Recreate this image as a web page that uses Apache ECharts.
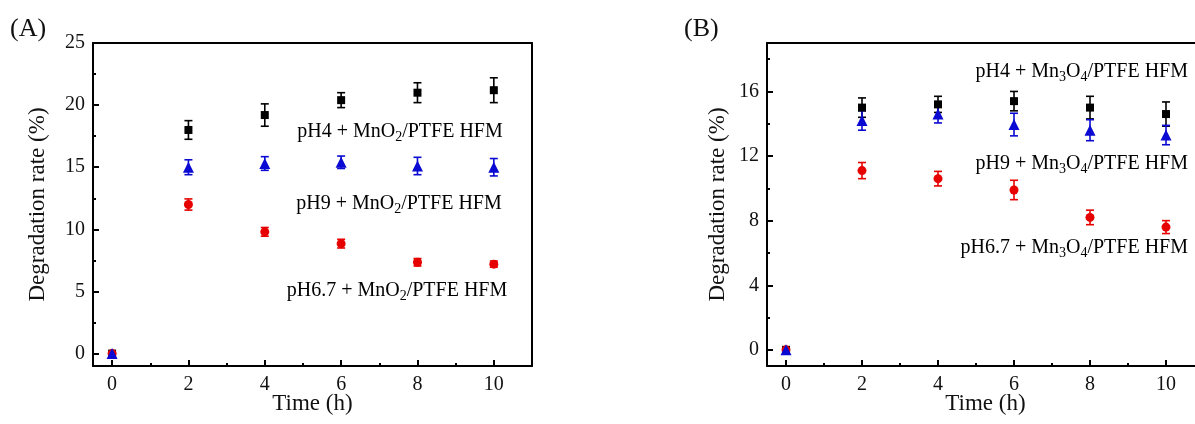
<!DOCTYPE html>
<html>
<head>
<meta charset="utf-8">
<script src="https://cdn.jsdelivr.net/npm/echarts@6/dist/echarts.min.js"></script>
<style>
  html, body { margin: 0; padding: 0; background: #fff; }
  #chart { width: 1195px; height: 424px; }
</style>
</head>
<body>
<div id="chart"></div>
<script>
// time points (h)
const timeH = [0, 2, 4, 6, 8, 10];

// panel A : MnO2/PTFE HFM
const aPH4 = [0, 18.0, 19.2, 20.4, 21.0, 21.2];
const aPH4Err = [0, 0.75, 0.9, 0.6, 0.8, 1.0];
const aPH9 = [0, 15.0, 15.3, 15.4, 15.1, 15.0];
const aPH9Err = [0, 0.6, 0.55, 0.5, 0.7, 0.7];
const aPH67 = [0, 12.0, 9.8, 8.85, 7.35, 7.2];
const aPH67Err = [0, 0.45, 0.35, 0.35, 0.3, 0.25];

// panel B : Mn3O4/PTFE HFM
const bPH4 = [0, 15.0, 15.2, 15.4, 15.0, 14.6];
const bPH4Err = [0, 0.6, 0.5, 0.6, 0.7, 0.75];
const bPH9 = [0, 14.2, 14.6, 13.95, 13.6, 13.3];
const bPH9Err = [0, 0.6, 0.55, 0.7, 0.65, 0.6];
const bPH67 = [0, 11.1, 10.6, 9.9, 8.2, 7.6];
const bPH67Err = [0, 0.5, 0.45, 0.6, 0.45, 0.4];

// ticks
const xMajor = [0, 2, 4, 6, 8, 10];
const xMinor = [1, 3, 5, 7, 9];
const aYMajor = [0, 5, 10, 15, 20, 25];
const aYMinor = [2.5, 7.5, 12.5, 17.5, 22.5];
const bYMajor = [0, 4, 8, 12, 16];
const bYMinor = [2, 6, 10, 14, 18];

const FONT = "'Liberation Serif', 'Times New Roman', serif";
const BLACK = '#000000';
const RED = '#e60000';
const BLUE = '#0a0ad2';

const axisLineStyle = { color: '#000', width: 2 };

function xAxes(grid) {
    return [
        {
            type: 'value', gridIndex: grid, min: -0.5, max: 11, position: 'bottom',
            name: 'Time (h)', nameLocation: 'middle', nameGap: 26, nameMoveOverlap: false,
            nameTextStyle: { fontFamily: FONT, fontSize: 23, color: '#111' },
            axisLine: { show: true, onZero: false, lineStyle: axisLineStyle },
            axisTick: { show: true, inside: true, length: 6, customValues: xMajor, lineStyle: axisLineStyle },
            axisLabel: { customValues: xMajor, margin: 9, fontFamily: FONT, fontSize: 20, color: '#111' },
            splitLine: { show: false }
        },
        {
            // minor ticks
            type: 'value', gridIndex: grid, min: -0.5, max: 11, position: 'bottom',
            axisLine: { show: false, onZero: false },
            axisTick: { show: true, inside: true, length: 3, customValues: xMinor, lineStyle: axisLineStyle },
            axisLabel: { show: false },
            splitLine: { show: false }
        },
        {
            // top frame
            type: 'value', gridIndex: grid, min: -0.5, max: 11, position: 'top',
            axisLine: { show: true, onZero: false, lineStyle: axisLineStyle },
            axisTick: { show: false },
            axisLabel: { show: false },
            splitLine: { show: false }
        }
    ];
}

function yAxes(grid, max, major, minor, gap, rightFrame) {
    return [
        {
            type: 'value', gridIndex: grid, min: -1, max: max, position: 'left',
            name: 'Degradation rate (%)', nameLocation: 'middle', nameGap: gap,
            nameTextStyle: { fontFamily: FONT, fontSize: 23, color: '#111' },
            axisLine: { show: true, onZero: false, lineStyle: axisLineStyle },
            axisTick: { show: true, inside: true, length: 6, customValues: major, lineStyle: axisLineStyle },
            axisLabel: { customValues: major, margin: 8, fontFamily: FONT, fontSize: 20, color: '#111' },
            splitLine: { show: false }
        },
        {
            // minor ticks
            type: 'value', gridIndex: grid, min: -1, max: max, position: 'left',
            axisLine: { show: false, onZero: false },
            axisTick: { show: true, inside: true, length: 3, customValues: minor, lineStyle: axisLineStyle },
            axisLabel: { show: false },
            splitLine: { show: false }
        },
        {
            // right frame
            type: 'value', gridIndex: grid, min: -1, max: max, position: 'right',
            axisLine: { show: rightFrame, onZero: false, lineStyle: axisLineStyle },
            axisTick: { show: false },
            axisLabel: { show: false },
            splitLine: { show: false }
        }
    ];
}

function errorSeries(xi, yi, vals, errs, color) {
    return {
        type: 'custom',
        xAxisIndex: xi, yAxisIndex: yi,
        data: timeH.map((t, i) => [t, vals[i] - errs[i], vals[i] + errs[i]]),
        renderItem: function (params, api) {
            const lo = api.coord([api.value(0), api.value(1)]);
            const hi = api.coord([api.value(0), api.value(2)]);
            if (Math.abs(lo[1] - hi[1]) < 0.5) return;
            const w = 4;
            const st = { stroke: color, lineWidth: 1.6 };
            return {
                type: 'group',
                children: [
                    { type: 'line', shape: { x1: lo[0], y1: lo[1], x2: hi[0], y2: hi[1] }, style: st },
                    { type: 'line', shape: { x1: lo[0] - w, y1: lo[1], x2: lo[0] + w, y2: lo[1] }, style: st },
                    { type: 'line', shape: { x1: hi[0] - w, y1: hi[1], x2: hi[0] + w, y2: hi[1] }, style: st }
                ]
            };
        },
        z: 3
    };
}

function pointSeries(xi, yi, vals, symbol, size, color) {
    return {
        type: 'scatter',
        xAxisIndex: xi, yAxisIndex: yi,
        symbol: symbol, symbolSize: size,
        itemStyle: { color: color, opacity: 1 },
        data: timeH.map((t, i) => [t, vals[i]]),
        z: 4
    };
}

const richStyle = {
    n: { fontFamily: FONT, fontSize: 20, color: '#111', lineHeight: 24 },
    s: { fontFamily: FONT, fontSize: 14, color: '#111', lineHeight: 13, verticalAlign: 'bottom' }
};

function note(x, y, text, align) {
    return {
        type: 'text', x: x, y: y,
        style: { text: text, align: align, verticalAlign: 'middle', rich: richStyle }
    };
}

const chart = echarts.init(document.getElementById('chart'));

const option = {
    animation: false,
    backgroundColor: '#fff',
    grid: [
        { left: 93, top: 43, width: 439, height: 323, outerBoundsMode: 'none' },
        { left: 767, top: 43, width: 437, height: 323, outerBoundsMode: 'none' }
    ],
    xAxis: [...xAxes(0), ...xAxes(1)],
    yAxis: [...yAxes(0, 25, aYMajor, aYMinor, 44, true), ...yAxes(1, 19, bYMajor, bYMinor, 38, false)],
    series: [
        errorSeries(0, 0, aPH4, aPH4Err, BLACK),
        errorSeries(0, 0, aPH67, aPH67Err, RED),
        errorSeries(0, 0, aPH9, aPH9Err, BLUE),
        pointSeries(0, 0, aPH4, 'rect', 8, BLACK),
        pointSeries(0, 0, aPH67, 'circle', 9, RED),
        pointSeries(0, 0, aPH9, 'triangle', 11, BLUE),
        errorSeries(3, 3, bPH4, bPH4Err, BLACK),
        errorSeries(3, 3, bPH67, bPH67Err, RED),
        errorSeries(3, 3, bPH9, bPH9Err, BLUE),
        pointSeries(3, 3, bPH4, 'rect', 8, BLACK),
        pointSeries(3, 3, bPH67, 'circle', 9, RED),
        pointSeries(3, 3, bPH9, 'triangle', 11, BLUE)
    ],
    graphic: [
        { type: 'text', left: 10, top: 16, style: { text: '(A)', fontFamily: FONT, fontSize: 26, fill: '#111' } },
        { type: 'text', left: 684, top: 16, style: { text: '(B)', fontFamily: FONT, fontSize: 26, fill: '#111' } },
        note(400, 132, '{n|pH4 + MnO}{s|2}{n|/PTFE HFM}', 'center'),
        note(399, 204, '{n|pH9 + MnO}{s|2}{n|/PTFE HFM}', 'center'),
        note(397, 291, '{n|pH6.7 + MnO}{s|2}{n|/PTFE HFM}', 'center'),
        note(1188, 72, '{n|pH4 + Mn}{s|3}{n|O}{s|4}{n|/PTFE HFM}', 'right'),
        note(1188, 164, '{n|pH9 + Mn}{s|3}{n|O}{s|4}{n|/PTFE HFM}', 'right'),
        note(1188, 248, '{n|pH6.7 + Mn}{s|3}{n|O}{s|4}{n|/PTFE HFM}', 'right')
    ]
};

chart.setOption(option);
window.addEventListener('resize', () => chart.resize());
</script>
</body>
</html>
